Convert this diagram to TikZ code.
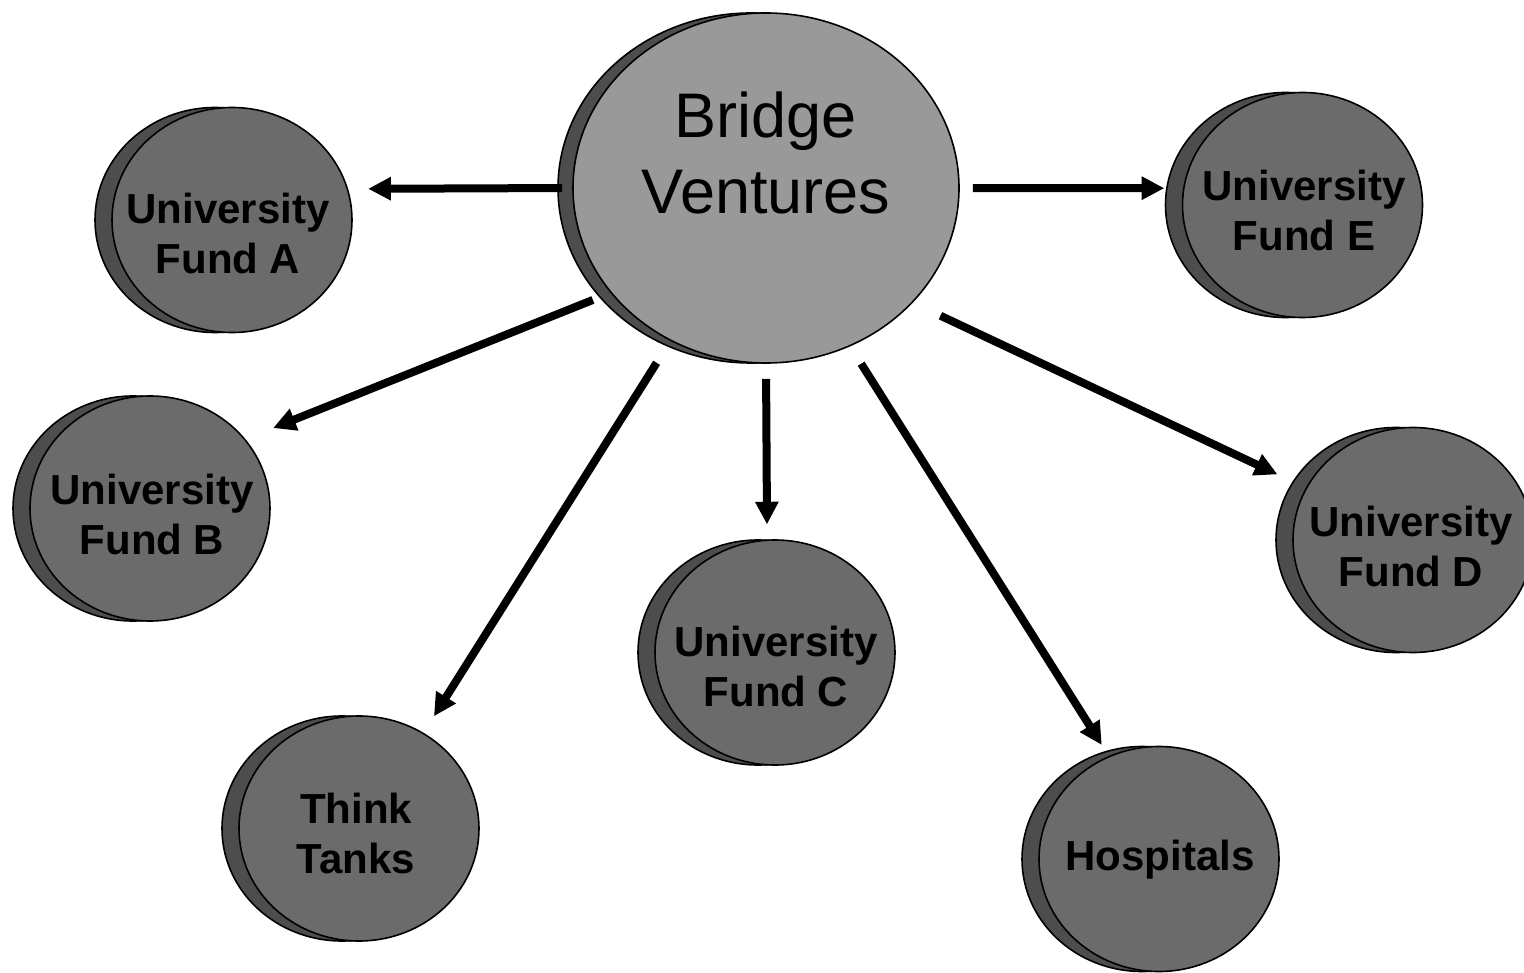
\documentclass[tikz,border=0pt]{standalone}
\usepackage{fontspec}
\setmainfont{Liberation Sans}
\usetikzlibrary{shapes.geometric,arrows.meta}
\definecolor{bigfront}{HTML}{999999}
\definecolor{smallfront}{HTML}{6B6B6B}
\definecolor{discdark}{HTML}{4D4D4D}
\tikzset{
  disc/.style={ellipse, draw=black, line width=1.2pt, inner sep=0pt,
    minimum width=180pt, minimum height=168.75pt, fill=smallfront},
  discbk/.style={disc, fill=discdark},
  bigdisc/.style={disc, minimum width=289.5pt, minimum height=262.5pt, fill=bigfront},
  bigdiscbk/.style={bigdisc, fill=discdark},
  lab/.style={font=\bfseries\fontsize{31.5pt}{37.5pt}\selectfont, align=center, inner sep=0pt},
  biglab/.style={font=\fontsize{47.25pt}{57pt}\selectfont, align=center, inner sep=0pt},
  arr/.style={line width=6pt, -{Triangle[length=17pt,width=16.5pt]}}
}
\begin{document}
\begin{tikzpicture}[x=0.75pt,y=-0.75pt]
\useasboundingbox (0,0) rectangle (1524,973);
% central disc
\node[bigdiscbk] (bvb) at (751,188) {};
\node[bigdisc] (bv) at (766,188) {};
\node[biglab] (bvt) at (766,153) {Bridge\\Ventures};
% satellite discs
\node[discbk] (fab) at (215,220) {};
\node[disc] (fa) at (232,220) {};
\node[lab] (fat) at (228,233) {University\\Fund A};
\node[discbk] (fbb) at (133,508.5) {};
\node[disc] (fb) at (150,508.5) {};
\node[lab] (fbt) at (152,514) {University\\Fund B};
\node[discbk] (fcb) at (758,652.5) {};
\node[disc] (fc) at (775,652.5) {};
\node[lab] (fct) at (776,666) {University\\Fund C};
\node[discbk] (fdb) at (1396,540) {};
\node[disc] (fd) at (1413,540) {};
\node[lab] (fdt) at (1411,546) {University\\Fund D};
\node[discbk] (feb) at (1285.5,205) {};
\node[disc] (fe) at (1302.5,205) {};
\node[lab] (fet) at (1304,210) {University\\Fund E};
\node[discbk] (ttb) at (342,828.5) {};
\node[disc] (tt) at (359,828.5) {};
\node[lab] (ttt) at (356,833) {Think\\Tanks};
\node[discbk] (hob) at (1142,859) {};
\node[disc] (ho) at (1159,859) {};
\node[lab] (hot) at (1160,859.5) {Hospitals};
% arrows
\draw[arr, shorten <=7.5pt, shorten >=15pt] (bv.180) -- (fa.15.55);
\draw[arr, shorten <=14.2pt, shorten >=22.3pt] (bv.214.2) -- (fb.36.4);
\draw[arr, shorten <=19.4pt, shorten >=14.6pt] (bv.238) -- (tt.56.9);
\draw[arr, shorten <=11.25pt, shorten >=11.25pt] (bv.270) -- (fc.94.6);
\draw[arr, shorten <=15.4pt, shorten >=9.8pt] (bv.298.8) -- (ho.116.4);
\draw[arr, shorten <=22.9pt, shorten >=23.5pt] (bv.322.1) -- (fd.154.2);
\draw[arr, shorten <=9.75pt, shorten >=14pt] (bv.0) -- (fe.172.3);
\end{tikzpicture}
\end{document}
